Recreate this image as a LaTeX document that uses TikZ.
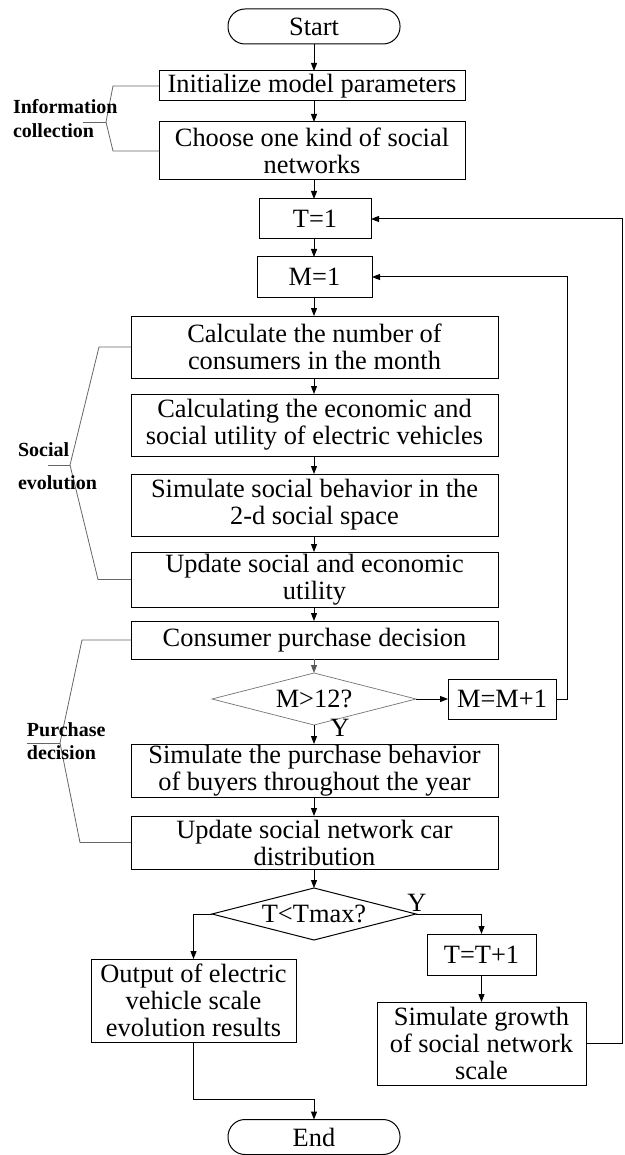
\documentclass[tikz,border=0pt]{standalone}
\usepackage{fontspec}
\setmainfont{Liberation Serif}
\usetikzlibrary{shapes.geometric,arrows.meta}
\begin{document}
\begin{tikzpicture}[x=1pt,y=-1pt,
  every node/.style={inner sep=0pt, outer sep=0pt, font=\fontsize{26.4}{27}\selectfont},
  box/.style={draw, line width=1pt, align=center},
  term/.style={draw, line width=1pt, rounded corners=17pt, minimum width=172pt, minimum height=35pt},
  dec/.style={draw, diamond, aspect=3.9, minimum width=204pt, minimum height=52pt, line width=1pt},
  arr/.style={-{Triangle[length=8pt,width=6pt]}, line width=1pt},
  brk/.style={draw=black!60, line width=0.8pt},
  lbl/.style={anchor=base west, font=\fontsize{20}{22}\selectfont\bfseries},
  ]
\useasboundingbox (0,0) rectangle (624,1155);

% main column
\node[term] (start) at (314,26.5) {Start};
\node[box, minimum width=306pt, minimum height=30pt] (init) at (312,86) {Initialize model parameters};
\node[box, minimum width=306pt, minimum height=58pt] (choose) at (312,151) {Choose one kind of social\\networks};
\node[box, minimum width=112pt, minimum height=40pt] (t1) at (315,219) {T=1};
\node[box, minimum width=115pt, minimum height=40pt] (m1) at (314.5,277) {M=1};
\node[box, minimum width=367pt, minimum height=62pt] (calc) at (314.5,347) {Calculate the number of\\consumers in the month};
\node[box, minimum width=367pt, minimum height=62pt] (econ) at (314.5,425) {Calculating the economic and\\social utility of electric vehicles};
\node[box, minimum width=367pt, minimum height=62pt] (simsoc) at (314.5,505) {Simulate social behavior in the\\2-d social space};
\node[box, minimum width=367pt, minimum height=55pt] (upd) at (314.5,579.5) {Update social and economic\\utility};
\node[box, minimum width=367pt, minimum height=38pt] (cons) at (314.5,640) {Consumer purchase decision};
\node[dec, draw=black!55, line width=0.7pt] (dm) at (314,699) {M>12?};
\node[box, minimum width=108pt, minimum height=40pt] (mpp) at (502,699) {M=M+1};
\node[box, minimum width=367pt, minimum height=53pt] (simpur) at (314.5,770.5) {Simulate the purchase behavior\\of buyers throughout the year};
\node[box, minimum width=367pt, minimum height=53pt] (updcar) at (314.5,842.5) {Update social network car\\distribution};
\node[dec] (dt) at (314,914) {T<Tmax?};
\node[box, minimum width=205pt, minimum height=83pt] (out) at (193.5,1000.5) {Output of electric\\vehicle scale\\evolution results};
\node[box, minimum width=109pt, minimum height=41pt] (tpp) at (481.5,954.5) {T=T+1};
\node[box, minimum width=209pt, minimum height=83pt] (grow) at (481.5,1043.5) {Simulate growth\\of social network\\scale};
\node[term] (end) at (314,1137) {End};

\node (y1) at (340,728) {Y};
\node (y2) at (417,903) {Y};

% vertical flow
\draw[arr] (start.south) -- (start.south |- init.north);
\draw[arr] (start.south |- init.south) -- (start.south |- choose.north);
\draw[arr] (start.south |- choose.south) -- (start.south |- t1.north);
\draw[arr] (start.south |- t1.south) -- (start.south |- m1.north);
\draw[arr] (start.south |- m1.south) -- (start.south |- calc.north);
\draw[arr] (start.south |- calc.south) -- (start.south |- econ.north);
\draw[arr] (start.south |- econ.south) -- (start.south |- simsoc.north);
\draw[arr] (start.south |- simsoc.south) -- (start.south |- upd.north);
\draw[arr] (start.south |- upd.south) -- (start.south |- cons.north);
\draw[arr, draw=black!65, fill=black!65] (start.south |- cons.south) -- (dm.north);
\draw[arr] (dm.south) -- (dm.south |- simpur.north);
\draw[arr] (dm.south |- simpur.south) -- (dm.south |- updcar.north);
\draw[arr] (dm.south |- updcar.south) -- (dt.north);

% M loop
\draw[arr] (dm.east) -- (mpp.west);
\draw[arr] (mpp.east) -- ++(11,0) |- (m1.east);

% T decision
\draw[arr] (dt.west) -| (out.north);
\draw[arr] (dt.east) -| (tpp.north);
\draw[arr] (tpp.south) -- (grow.north);
\draw[arr] (grow.east) -- ++(36,0) |- (t1.east);
\coordinate (jn) at (193.5,1099);
\draw[arr] (out.south) -- (jn) -| (end.north);

% brackets
\draw[brk] (init.west) -- (113,86) -- (106,122) -- (113,151) -- (choose.west);
\draw[brk] (83,122) -- (106,122);
\node[lbl] (lab1a) at (13,114) {Information};
\node[lbl] (lab1b) at (13,138) {collection};

\draw[brk] (calc.west) -- (99,347) -- (70,465) -- (98,579.5) -- (upd.west);
\draw[brk] (48,465) -- (70,465);
\node[lbl] (lab2a) at (18,456) {Social};
\node[lbl] (lab2b) at (18,489) {evolution};

\draw[brk] (cons.west) -- (82,640) -- (60,743) -- (80,842.5) -- (updcar.west);
\draw[brk] (27,743) -- (60,743);
\node[lbl] (lab3a) at (27,736) {Purchase};
\node[lbl] (lab3b) at (27,759) {decision};
\end{tikzpicture}
\end{document}
